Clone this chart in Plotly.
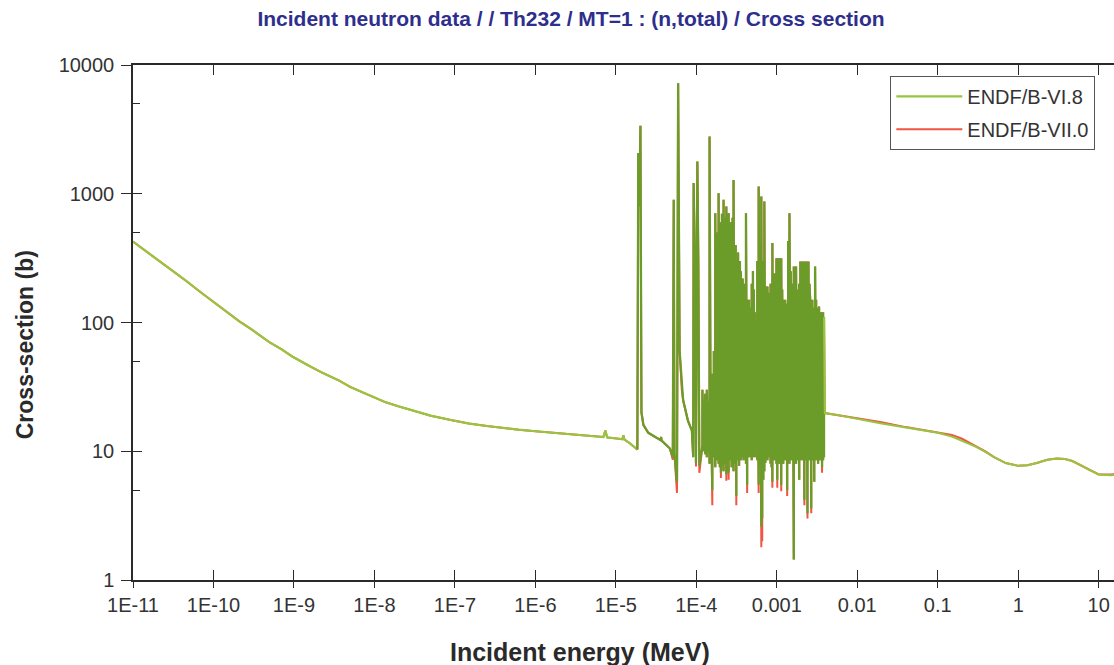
import plotly.graph_objects as go

# ---------------- data ----------------
# Smooth thermal / epithermal part (MeV, barns) - both evaluations identical
e_thermal = [1e-11, 1.5e-11, 2e-11, 3e-11, 4.5e-11, 7e-11, 1e-10, 1.5e-10, 2.1e-10, 3e-10,
             5e-10, 7e-10, 9.5e-10, 1.5e-9, 2.2e-9, 3.6e-9, 5e-9, 7e-9, 1e-8, 1.38e-8,
             2e-8, 3e-8, 5e-8, 9.2e-8, 1.5e-7, 2.5e-7, 4e-7, 6.2e-7, 1e-6, 1.5e-6,
             2.5e-6, 4.2e-6, 7.0e-6, 7.4e-6, 7.8e-6, 1.09e-5, 1.2e-5, 1.24e-5, 1.28e-5,
             1.5e-5, 1.76e-5]
s_thermal = [425, 353, 308, 254, 212, 171, 145, 121, 102, 88,
             70, 62, 54.5, 46.5, 41, 35.5, 31.6, 28.8, 26.2, 24.0,
             22.3, 20.6, 18.9, 17.4, 16.4, 15.7, 15.1, 14.7, 14.3, 14.0,
             13.6, 13.1, 12.9, 14.5, 12.8, 12.5, 12.4, 13.3, 12.3,
             11.5, 10.5]

# First isolated resonances (eV, barns)
e_lowres_ev = [18.5, 19.0, 19.6, 20.2, 20.8, 22.0, 25.3, 36.0, 36.5, 37.0, 47.0, 51.0,
               52.4, 53.5, 57.5, 59.4, 62.0, 66.0, 68.5, 78.8, 88.0, 91.5, 92.6, 96.0,
               99.0, 103.0, 106.0, 109.0]
s_lowres_vi8 = [10.3, 2075, 800, 3380, 20.0, 16.0, 13.9, 12.2, 12.9, 12.1, 10.5, 9.0,
                897, 9.5, 5.8, 7210, 60, 30, 25, 17.2, 14.5, 9.0, 1210, 300,
                8.1, 1780, 272, 7.7]
s_lowres_vii = [10.3, 2075, 800, 3380, 20.0, 16.0, 13.9, 12.2, 12.9, 12.1, 10.5, 8.6,
                897, 9.5, 4.75, 7210, 60, 30, 25, 17.2, 14.5, 9.0, 1210, 300,
                7.6, 1780, 272, 6.8]

# Dense resolved-resonance region: resonance energy (eV), peak, interference dip
res_e_ev = [119, 124, 129, 135, 141, 146, 151, 158, 165, 172, 177, 182, 189, 196, 202,
            208, 214, 218, 225, 230, 236, 243, 252, 260, 267, 274, 282, 290, 300, 308,
            314, 322, 330, 340, 348, 357, 366, 376, 386, 396, 414, 428, 440, 452, 463,
            476, 488, 505, 518, 532, 572, 595, 618, 642, 659, 680, 700, 720, 742, 765,
            788, 811, 836, 860, 881, 905, 935, 960, 990, 1014, 1043, 1074, 1104, 1135, 1167,
            1202, 1236, 1272, 1308, 1346, 1385, 1436, 1490, 1535, 1575, 1626, 1665, 1735, 1785, 1837,
            1900, 1960, 2020, 2080, 2140, 2200, 2265, 2330, 2405, 2475, 2545, 2600, 2680, 2760, 2840,
            2920, 2990, 3080, 3170, 3260, 3350, 3450, 3550, 3650, 3760, 3860]
res_peak = [30, 25, 28, 30, 24, 2780, 34, 40, 60, 707, 400, 500, 1011, 600, 300,
            700, 600, 897, 650, 500, 797, 550, 707, 450, 600, 500, 650, 1280, 350, 400,
            250, 300, 350, 200, 300, 250, 180, 220, 150, 200, 707, 150, 120, 150, 90,
            130, 200, 251, 180, 120, 300, 1137, 400, 952, 200, 300, 870, 190, 190, 190,
            170, 150, 200, 150, 414, 240, 180, 240, 316, 316, 250, 316, 200, 316, 180,
            150, 130, 150, 140, 120, 430, 707, 250, 159, 200, 272, 200, 272, 180, 142,
            200, 298, 298, 298, 250, 298, 298, 250, 298, 298, 200, 150, 140, 150, 120,
            130, 272, 150, 130, 120, 133, 110, 120, 110, 120, 110]
res_dip_vi8 = [11, 10, 9.5, 9, 10, 8, 9, 5.0, 9, 7.5, 9, 8.5, 8, 7.5, 6.8,
               8, 9, 7, 8, 9, 6.6, 8, 6.8, 8.5, 9, 7.5, 8, 7, 8, 9,
               4.5, 8.5, 9, 7.7, 9.5, 8.5, 9, 10, 8.5, 9, 8, 5.5, 9, 10, 9,
               9.5, 8.5, 9, 10, 9, 8.5, 5.5, 8, 2.6, 3.0, 6, 7, 8.1, 9, 8.5,
               9.5, 9, 8, 7.5, 5.8, 9, 8.5, 9, 8, 6, 9, 8, 9, 5.5, 9,
               8, 9, 8.5, 9.5, 5.0, 9, 8, 9, 8.5, 9, 1.44, 8, 8, 9, 8.5,
               6.0, 9, 8.5, 9, 8.5, 4.2, 9, 8.5, 3.3, 9, 8.5, 9.5, 3.6, 9, 8.5,
               5.8, 9, 8.5, 9, 8, 9, 8.5, 9, 7.5, 8.5, 9]
res_dip_vii = [11, 10, 9.5, 9, 10, 8, 9, 3.8, 9, 7.5, 9, 8.5, 8, 7.5, 6.2,
               8, 9, 7, 8, 9, 5.9, 8, 6.0, 8.5, 9, 7.5, 8, 7, 8, 9,
               3.8, 8.5, 9, 7.7, 9.5, 8.5, 9, 10, 8.5, 9, 8, 4.75, 9, 10, 9,
               9.5, 8.5, 9, 10, 9, 8.5, 4.75, 8, 1.8, 2.0, 6, 7, 8.1, 9, 8.5,
               9.5, 9, 8, 7.5, 5.2, 9, 8.5, 9, 8, 5.2, 9, 8, 9, 4.9, 9,
               8, 9, 8.5, 9.5, 4.5, 9, 8, 9, 8.5, 9, 1.44, 8, 8, 9, 8.5,
               6.0, 9, 8.5, 9, 8.5, 3.8, 9, 8.5, 3.0, 9, 8.5, 9.5, 3.3, 9, 8.5,
               5.8, 9, 8.5, 9, 8, 9, 8.5, 9, 6.8, 8.5, 9]

# Fast region (MeV, barns)
e_fast = [3.95e-3, 6e-3, 1e-2, 2e-2, 4e-2, 7e-2, 0.1, 0.15, 0.2, 0.3, 0.4, 0.5, 0.7,
          1.0, 1.3, 1.7, 2.3, 3.0, 3.8, 4.7, 6.0, 7.5, 10, 14, 20]
s_fast_vi8 = [19.8, 19.0, 17.8, 16.4, 15.3, 14.5, 13.9, 13.0, 12.1, 10.8, 9.8, 9.0, 8.1,
              7.7, 7.8, 8.1, 8.6, 8.8, 8.7, 8.4, 7.8, 7.2, 6.6, 6.5, 6.6]
s_fast_vii = [19.8, 19.0, 17.9, 16.8, 15.4, 14.6, 14.0, 13.4, 12.5, 11.0, 9.9, 9.0, 8.1,
              7.7, 7.8, 8.1, 8.6, 8.8, 8.7, 8.4, 7.8, 7.2, 6.6, 6.6, 6.7]

x_tickvals = [1e-11, 1e-10, 1e-9, 1e-8, 1e-7, 1e-6, 1e-5, 1e-4, 1e-3, 1e-2, 1e-1, 1, 10]
x_ticktext = ["1E-11", "1E-10", "1E-9", "1E-8", "1E-7", "1E-6", "1E-5", "1E-4",
              "0.001", "0.01", "0.1", "1", "10"]
y_tickvals = [1, 10, 100, 1000, 10000]
y_ticktext = ["1", "10", "100", "1000", "10000"]
y_minorvals = [5, 50, 500, 5000]

# ---------------- build series ----------------
EV = 1e-6  # eV -> MeV


def resonance_series(lowres_s, dips):
    xs = [e * EV for e in e_lowres_ev]
    ys = list(lowres_s)
    for e, p, d in zip(res_e_ev, res_peak, dips):
        xs += [e * EV, e * EV]
        ys += [d, p]
    return xs, ys


rx6, ry6 = resonance_series(s_lowres_vi8, res_dip_vi8)
rx7, ry7 = resonance_series(s_lowres_vii, res_dip_vii)

red_x = e_thermal + rx7 + e_fast
red_y = s_thermal + ry7 + s_fast_vii

GREEN_LIGHT = "#96c63e"
GREEN_DARK = "#6b9c2a"
RED = "#ef5540"

fig = go.Figure()
fig.add_trace(go.Scatter(x=red_x, y=red_y, mode="lines", name="ENDF/B-VII.0",
                         line=dict(color=RED, width=2.0), legendrank=2,
                         xaxis="x", yaxis="y"))
fig.add_trace(go.Scatter(x=e_thermal + [rx6[0]], y=s_thermal + [ry6[0]], mode="lines",
                         name="ENDF/B-VI.8", legendgroup="vi8", legendrank=1,
                         line=dict(color=GREEN_LIGHT, width=2.2), xaxis="x2", yaxis="y2"))
fig.add_trace(go.Scatter(x=rx6, y=ry6, mode="lines", name="ENDF/B-VI.8",
                         legendgroup="vi8", showlegend=False,
                         line=dict(color=GREEN_DARK, width=2.3), xaxis="x2", yaxis="y2"))
fig.add_trace(go.Scatter(x=[rx6[-1]] + e_fast, y=[ry6[-1]] + s_fast_vi8, mode="lines",
                         name="ENDF/B-VI.8", legendgroup="vi8", showlegend=False,
                         line=dict(color=GREEN_LIGHT, width=2.0), xaxis="x2", yaxis="y2"))

XR = [-11, 1.19]
YR = [0, 4]
AXC = "#2a2a2a"
TICKFONT = dict(family="Liberation Sans, Arial, sans-serif", size=20, color="#333333")

fig.update_layout(
    width=1114, height=665,
    margin=dict(l=133, r=0, t=65, b=85),
    paper_bgcolor="white", plot_bgcolor="white",
    showlegend=True,
    title=dict(text="<b>Incident neutron data / / Th232 / MT=1 : (n,total) / Cross section</b>",
               x=0.5126, xanchor="center", xref="container",
               y=0.972, yanchor="middle", yref="container",
               font=dict(family="Liberation Sans Narrow, Arial Narrow, Liberation Sans, sans-serif",
                         size=21, color="#2e2e8c")),
    xaxis=dict(type="log", range=XR, tickmode="array", tickvals=x_tickvals,
               ticktext=x_ticktext, ticks="outside", ticklen=6, tickwidth=1.3,
               tickcolor=AXC, showline=True, linecolor=AXC, linewidth=1.5,
               showgrid=False, zeroline=False, tickfont=TICKFONT, mirror=False),
    yaxis=dict(type="log", range=YR, tickmode="array", tickvals=y_tickvals,
               ticktext=y_ticktext, ticks="outside", ticklen=10, tickwidth=1.3,
               tickcolor=AXC, showline=True, linecolor=AXC, linewidth=1.5,
               showgrid=False, zeroline=False, tickfont=TICKFONT, ticklabelstandoff=3),
    xaxis2=dict(type="log", range=XR, overlaying="x", side="bottom", anchor="y2",
                tickmode="array", tickvals=x_tickvals, ticks="inside", ticklen=10,
                tickwidth=1.3, tickcolor=AXC, showticklabels=False, showline=True,
                linecolor=AXC, linewidth=1.5, mirror="ticks", showgrid=False,
                zeroline=False),
    yaxis2=dict(type="log", range=YR, overlaying="y", side="left", anchor="x2",
                tickmode="array", tickvals=y_tickvals, ticks="inside", ticklen=9,
                tickwidth=1.3, tickcolor=AXC, showticklabels=False, showline=False,
                showgrid=False, zeroline=False,
                minor=dict(tickmode="array", tickvals=y_minorvals, ticks="inside",
                           ticklen=7, tickwidth=1.2, tickcolor=AXC, showgrid=False)),
    legend=dict(x=0.772, y=0.979, xanchor="left", yanchor="top",
                bgcolor="white", bordercolor="#555555", borderwidth=1,
                font=dict(family="Liberation Sans, Arial, sans-serif", size=20,
                          color="#333333"),
                itemwidth=66, tracegroupgap=4),
    annotations=[
        dict(text="<b>Incident energy (MeV)</b>", xref="paper", yref="paper",
             x=0.4557, y=-0.1398, xanchor="center", yanchor="middle", showarrow=False,
             font=dict(family="Liberation Sans, Arial, sans-serif", size=25, color="#2a2a2a")),
        dict(text="<b>Cross-section (b)</b>", xref="paper", yref="paper",
             x=-0.110, y=0.456, xanchor="center", yanchor="middle", showarrow=False,
             textangle=-90,
             font=dict(family="Liberation Sans, Arial, sans-serif", size=23, color="#2a2a2a")),
    ],
)

fig.write_html("out.html")
